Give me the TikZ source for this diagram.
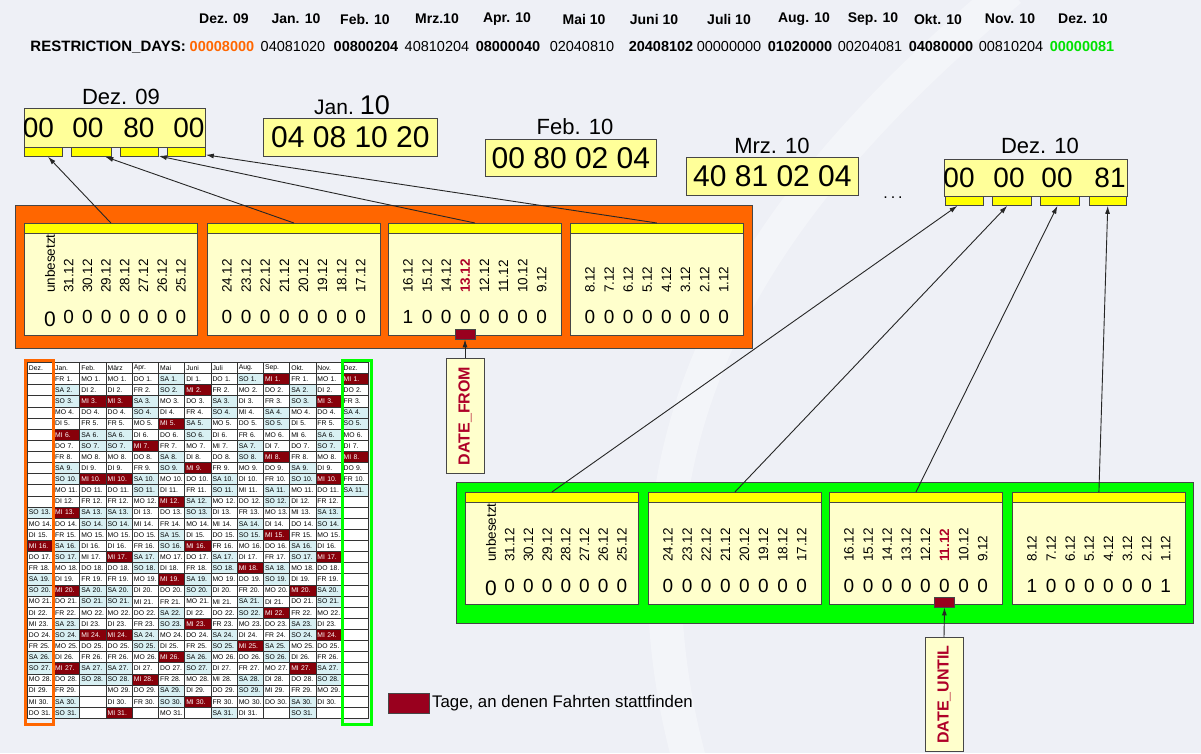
\documentclass[tikz,border=0pt]{standalone}
\usepackage{fontspec}
\setmainfont{Liberation Sans}
\usetikzlibrary{arrows.meta}
\newcommand\fsz[1]{\fontsize{#1}{#1}\selectfont}
\definecolor{bg}{RGB}{238,240,246}
\definecolor{orng}{RGB}{255,102,0}
\definecolor{grn}{RGB}{0,255,0}
\definecolor{grntxt}{RGB}{0,225,0}
\definecolor{pale}{RGB}{255,255,204}
\definecolor{boxy}{RGB}{255,255,153}
\definecolor{yel}{RGB}{255,255,0}
\definecolor{dred}{RGB}{153,0,30}
\definecolor{calred}{RGB}{135,0,10}
\definecolor{tred}{RGB}{175,0,40}
\definecolor{wkend}{RGB}{216,240,243}
\definecolor{edge}{RGB}{70,70,70}
\tikzset{
 numbox/.style={draw=edge, fill=boxy, line width=0.8, inner sep=0, anchor=north west},
 tabbox/.style={draw=edge, fill=yel, line width=0.8, inner sep=0, anchor=north west, minimum height=9},
 panel/.style={draw=edge, fill=pale, line width=0.8, inner sep=0, anchor=north west, minimum width=173, minimum height=112},
 barbox/.style={draw=edge, fill=yel, line width=0.8, inner sep=0, anchor=north west, minimum width=173, minimum height=10},
 datetxt/.style={rotate=90, anchor=west, inner sep=0, font=\fsz{13.5}},
 bittxt/.style={inner sep=0},
 arr/.style={draw=black!85, line width=0.9, -{Latex[length=8pt,width=5pt]}},
 marker/.style={draw=edge, fill=dred, line width=0.8, inner sep=0, minimum width=20, minimum height=10},
 datebox/.style={draw=edge, fill=pale, line width=0.8, inner sep=0, rotate=90, minimum height=38, font=\bfseries\fsz{16}, text=tred},
 cell/.style={anchor=north west, minimum height=11.125, text width=23.23, inner xsep=1.5, inner ysep=0, align=left, draw=black!80, line width=0.9, font=\fsz{6.8}},
 bigbox/.style={line width=0.9, anchor=north west, inner sep=0, draw=edge}
}
\begin{document}
\begin{tikzpicture}[x=1pt,y=-1pt]
\useasboundingbox (0,0) rectangle (1201,753);
\fill[bg] (0,0) rectangle (1201,753);
\draw[white, opacity=0.35, line width=34] (1010,-10) .. controls (760,200) and (600,430) .. (690,763);

% ---------- header ----------
\foreach \hi/\hx/\htx in {0/224/Dez. 09, 1/296/Jan. 10, 2/365/Feb. 10, 3/437/Mrz.10, 4/507/Apr. 10, 5/584/Mai 10, 6/654/Juni 10, 7/729/Juli 10, 8/804/Aug. 10, 9/873/Sep. 10, 10/938/Okt. 10, 11/1010/Nov. 10, 12/1083/Dez. 10}
  \node[inner sep=0, font=\bfseries\fsz{14}] (ml\hi) at (\hx,19) {\htx};
\node[inner sep=0, anchor=east, font=\bfseries\fsz{15}] (rd) at (186,47) {RESTRICTION\_DAYS:};
\foreach \hi/\hx/\htx in {0/222/00008000, 1/293/04081020, 2/366/00800204, 3/437/40810204, 4/508/08000040, 5/582/02040810, 6/661/20408102, 7/729/00000000, 8/800/01020000, 9/870/00204081, 10/941/04080000, 11/1011/00810204, 12/1082/00000081}
  \node[inner sep=0, font=\fsz{14.5}] (mc\hi) at (\hx,47) {\ifodd\hi\else\bfseries\fi\ifnum\hi=0 \color{orng}\fi\ifnum\hi=12 \color{grntxt}\fi\htx};

% ---------- month boxes ----------
\node[inner sep=0, font=\fsz{22}] (l09) at (121,97) {Dez. 09};
\node[numbox, minimum width=181, minimum height=39] (b09) at (24,108) {};
\foreach \pk/\tx/\tw in {0/24/38, 1/71/40, 2/120/38, 3/167/38}
  \node[tabbox, minimum width=\tw] (t9\pk) at (\tx,147) {};
\begin{scope}
\clip (24,108) rectangle (205,147);
\foreach \pk/\nx/\nt in {0/38.5/00, 1/88/00, 2/139/80, 3/189/00}
  \node[inner sep=0, font=\fsz{28}] (n9\pk) at (\nx,128) {\nt};
\end{scope}
\node[inner sep=0] (l10a) at (352,105) {\fsz{21}Jan.\ \fsz{27}10};
\node[numbox, minimum width=174, minimum height=38, font=\fsz{30}] (b10a) at (263,118) {04 08 10 20};
\node[inner sep=0, font=\fsz{22}] (l10b) at (575,127) {Feb. 10};
\node[numbox, minimum width=171, minimum height=37, font=\fsz{30}] (b10b) at (485,139) {00 80 02 04};
\node[inner sep=0, font=\fsz{22}] (l10c) at (772,146) {Mrz. 10};
\node[numbox, minimum width=172, minimum height=38, font=\fsz{30}] (b10c) at (686,157) {40 81 02 04};
\node[inner sep=0, font=\fsz{16}] (dots) at (893,198) {.\hspace{3pt}.\hspace{3pt}.};
\node[inner sep=0, font=\fsz{22}] (l10d) at (1040,146) {Dez. 10};
\node[numbox, minimum width=183, minimum height=37] (b10d) at (944,159) {};
\foreach \pk/\tx/\tw in {0/945/38, 1/992/39, 2/1040/39, 3/1089/37}
  \node[tabbox, minimum width=\tw] (t10\pk) at (\tx,196) {};
\begin{scope}
\clip (944,159) rectangle (1127,196);
\foreach \pk/\nx/\nt in {0/959/00, 1/1009/00, 2/1057/00, 3/1110/81}
  \node[inner sep=0, font=\fsz{28}] (n10\pk) at (\nx,178) {\nt};
\end{scope}

% ---------- orange and green blocks ----------
\node[bigbox, fill=orng, minimum width=737, minimum height=143] (obox) at (15,205) {};
\node[bigbox, fill=grn, minimum width=737, minimum height=141] (gbox) at (456,482) {};
\foreach \pk/\pl/\gl in {0/24/465, 1/207/648, 2/388/829, 3/570/1012} {
  \ifnum\pk=0 \def\poff{26}\def\pspc{18.7}\else\def\poff{20}\def\pspc{19.1}\fi
  \node[panel] (op\pk) at (\pl,223) {};
  \node[barbox] (ob\pk) at (\pl,223) {};
  \node[panel] (gp\pk) at (\gl,492) {};
  \node[barbox] (gb\pk) at (\gl,492) {};
  \foreach \ci in {0,...,7} {
    \pgfmathtruncatemacro\dy{32-8*\pk-\ci}
    \pgfmathsetmacro\ox{\pl+\poff+\pspc*\ci}
    \pgfmathsetmacro\gx{\gl+\poff+\pspc*\ci}
    \ifnum\dy=32 \def\lab{unbesetzt}\def\bsz{21}\def\byo{96}\else\edef\lab{\dy.12}\def\bsz{19}\def\byo{94}\fi
    \node[datetxt] (od\pk\ci) at (\ox,293) {\ifnum\dy=13 \color{tred}\bfseries\fi\lab};
    \node[datetxt] (gd\pk\ci) at (\gx,562) {\ifnum\dy=11 \color{tred}\bfseries\fi\lab};
    \node[bittxt, font=\fsz{\bsz}] (obt\pk\ci) at (\ox,223+\byo) {\ifnum\dy=16 1\else 0\fi};
    \node[bittxt, font=\fsz{\bsz}] (gbt\pk\ci) at (\gx,492+\byo) {\ifnum\dy=8 1\else\ifnum\dy=1 1\else 0\fi\fi};
  }
}
\foreach \pk in {0,...,3} {
  \draw[arr] (ob\pk.north) -- (t9\pk);
  \draw[arr] (gb\pk.north) -- (t10\pk);
}

% ---------- DATE_FROM / DATE_UNTIL ----------
\node[marker] (mf) at (465,334) {};
\node[datebox, minimum width=115, anchor=east] (df) at (465,358) {DATE\_FROM};
\draw[arr] (df.east) -- (mf.south);
\node[marker] (mu) at (944.5,602) {};
\node[datebox, minimum width=114, anchor=east] (du) at (944,637) {DATE\_UNTIL};
\draw[arr] (du.east) -- (mu.south);

% ---------- legend ----------
\node[marker, minimum width=41, minimum height=20, anchor=north west] (lg) at (388,693) {};
\node[inner sep=0, anchor=west, font=\fsz{16.8}] (lgt) at (432,703) {Tage, an denen Fahrten stattfinden};

% ---------- calendar ----------
\foreach \mc/\mh/\ms/\mfrom/\mto/\mhl in {0/Dez./1/13/31/{16}, 1/Jan./4/1/31/{6,13,20,27}, 2/Feb./0/1/28/{3,10,24}, 3/März/0/1/31/{3,10,17,24,31}, 4/Apr./3/1/30/{7,28}, 5/Mai/5/1/31/{5,12,19,26}, 6/Juni/1/1/30/{2,9,16,23,30}, 7/Juli/3/1/31/{0}, 8/Aug./6/1/31/{18,25}, 9/Sep./2/1/30/{1,8,15,22}, 10/Okt./4/1/31/{20,27}, 11/Nov./0/1/30/{3,10,17,24}, 12/Dez./2/1/11/{1,8}} {
  \pgfmathsetmacro\cx{27+26.23*\mc}
  \node[cell, fill=white] (h\mc) at (\cx,362) {\mbox{\mh}};
  \foreach \dy in {1,...,31}
    \node[cell, fill=white] (e\mc-\dy) at (\cx,362+11.125*\dy) {};
  \foreach \dy in {\mfrom,...,\mto} {
    \pgfmathtruncatemacro\wdx{mod(\ms+\dy-1,7)}
    \pgfmathparse{{"MO","DI","MI","DO","FR","SA","SO"}[\wdx]}\let\wn\pgfmathresult
    \ifnum\wdx>4 \def\fc{wkend}\else\def\fc{white}\fi
    \node[cell, fill=\fc] (d\mc-\dy) at (\cx,362+11.125*\dy) {\mbox{\wn\ \dy.}};
  }
  \foreach \hy in \mhl {
    \ifnum\hy>0
      \node[cell, fill=calred, text=white] (r\mc-\hy) at (\cx,362+11.125*\hy) {\mbox{MI \hy.}};
    \fi
  }
}
\node[draw=orng, line width=3, anchor=north west, minimum width=28, minimum height=364, inner sep=0] (f09) at (23.5,358.5) {};
\node[draw=grn, line width=3, anchor=north west, minimum width=29, minimum height=364, inner sep=0] (f10) at (340.5,358.5) {};
\end{tikzpicture}
\end{document}
